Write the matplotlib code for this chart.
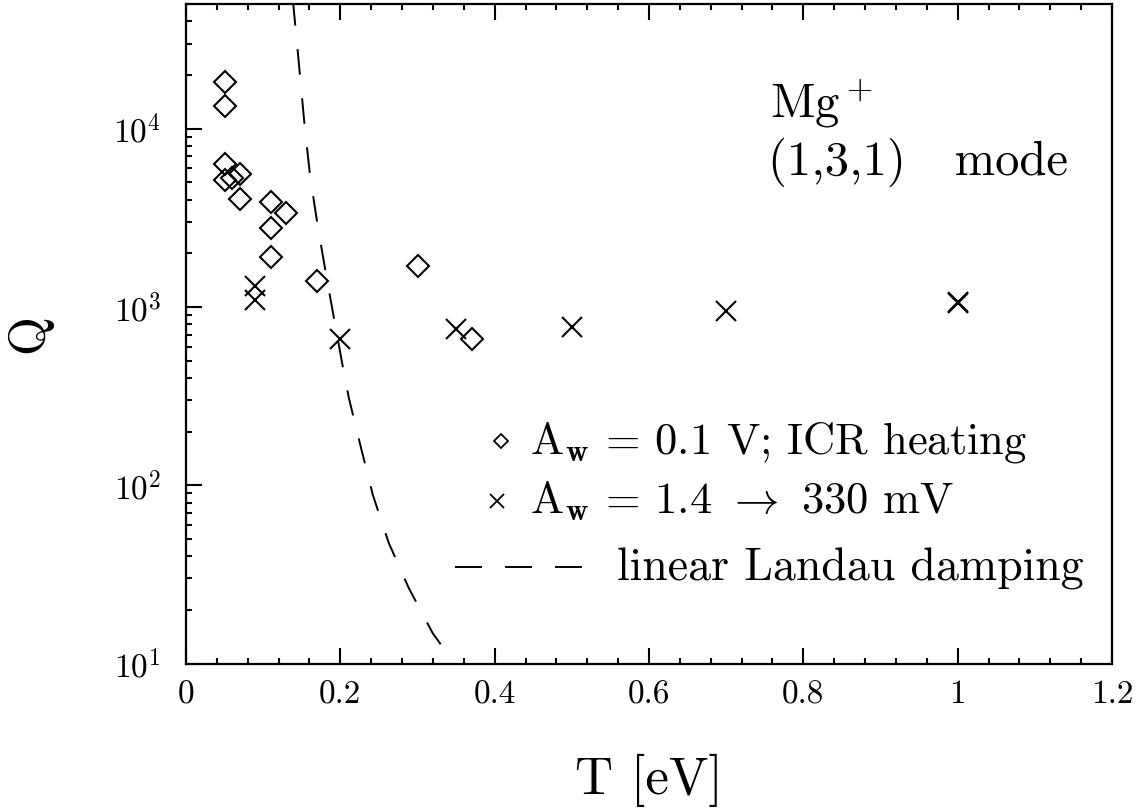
import matplotlib
matplotlib.use("Agg")
import matplotlib.pyplot as plt
from matplotlib.ticker import FixedLocator, FixedFormatter, LogLocator, MultipleLocator

plt.rcParams['font.family'] = ['cmr10', 'DejaVu Serif']
plt.rcParams['mathtext.fontset'] = 'cm'
plt.rcParams['axes.formatter.use_mathtext'] = True
plt.rcParams['lines.scale_dashes'] = False

# ---- data ----
T_diamond = [0.05, 0.05, 0.05, 0.05, 0.06, 0.07, 0.07, 0.11, 0.13, 0.11, 0.11, 0.17, 0.30, 0.37]
Q_diamond = [18200, 13460, 6330, 5160, 5280, 5570, 4040, 3880, 3360, 2770, 1910, 1400, 1700, 661]

T_cross = [0.09, 0.09, 0.20, 0.35, 0.50, 0.70, 1.00, 1.00]
Q_cross = [1310, 1090, 660, 754, 773, 949, 1070, 1050]

T_landau = [0.1385, 0.145, 0.154, 0.161, 0.1709, 0.1821, 0.1938, 0.2025, 0.211, 0.2265,
            0.2421, 0.2628, 0.2887, 0.3197, 0.3379, 0.3443]
Q_landau = [52700, 26600, 10090, 5360, 2810, 1472, 773, 480, 309, 164,
            88.3, 47.4, 26.5, 14.8, 11.5, 10.1]

x_ticks = [0, 0.2, 0.4, 0.6, 0.8, 1.0, 1.2]
x_tick_labels = ["0", "0.2", "0.4", "0.6", "0.8", "1", "1.2"]
y_ticks = [10, 100, 1000, 10000]
y_tick_labels = [r"$10^{1}$", r"$10^{2}$", r"$10^{3}$", r"$10^{4}$"]

W, H = 1136, 808
fig = plt.figure(figsize=(W / 100, H / 100), dpi=100)
ax = fig.add_axes([186 / W, 1 - 663.5 / H, (1112 - 186) / W, (663.5 - 3.5) / H])

ax.set_yscale('log')
ax.set_xlim(0, 1.2)
ax.set_ylim(10, 5.04e4)

dash = (0, (18.5, 17))
ax.plot(T_landau, Q_landau, color='black', lw=1.4, ls=dash)
ax.plot(T_diamond, Q_diamond, ls='none', marker='D', ms=11, mfc='none', mec='black', mew=1.5)
ax.plot(T_cross, Q_cross, ls='none', marker='x', ms=15, mec='black', mew=1.5)

ax.xaxis.set_major_locator(FixedLocator(x_ticks))
ax.xaxis.set_major_formatter(FixedFormatter(x_tick_labels))
ax.xaxis.set_minor_locator(MultipleLocator(0.04))
ax.yaxis.set_major_locator(FixedLocator(y_ticks))
ax.yaxis.set_major_formatter(FixedFormatter(y_tick_labels))
ax.yaxis.set_minor_locator(LogLocator(base=10, subs=range(2, 10)))

for s in ax.spines.values():
    s.set_linewidth(1.6)
ax.tick_params(which='both', direction='in', top=True, right=False, width=1.5)
ax.tick_params(which='major', length=11.5, labelsize=24, pad=12)
ax.tick_params(which='minor', length=4.5)
ax.tick_params(axis='y', which='major', pad=18)

ax.set_xlabel("T [eV]", fontsize=38, labelpad=32)
ax.set_ylabel("Q", fontsize=36, labelpad=44)

def px(x, y):
    return x / W, 1 - y / H

fig.text(*px(770, 118), r"Mg$^+$", fontsize=35, ha='left', va='baseline')
fig.text(*px(768, 175), "(1,3,1)   mode", fontsize=35, ha='left', va='baseline')

# legend glyphs
ax.plot([px(501, 441)[0]], [px(501, 441)[1]], transform=fig.transFigure, marker='D', ms=7,
        mfc='none', mec='black', mew=1.3, ls='none')
ax.plot([px(497, 501)[0]], [px(497, 501)[1]], transform=fig.transFigure, marker='x', ms=10,
        mec='black', mew=1.3, ls='none')
ax.plot([px(455, 567)[0], px(583, 567)[0]], [px(455, 567)[1], px(583, 567)[1]],
        transform=fig.transFigure, color='black', lw=1.4, ls=(0, (19.4, 16.6)))

fig.text(*px(530, 453), r"A$_\mathbf{w}$ = 0.1 V; ICR heating", fontsize=32, ha='left', va='baseline')
fig.text(*px(530, 513), r"A$_\mathbf{w}$ = 1.4 $\rightarrow$ 330 mV", fontsize=32, ha='left', va='baseline')
fig.text(*px(617, 580), "linear Landau damping", fontsize=33, ha='left', va='baseline')

fig.savefig("out.png", dpi=100)
